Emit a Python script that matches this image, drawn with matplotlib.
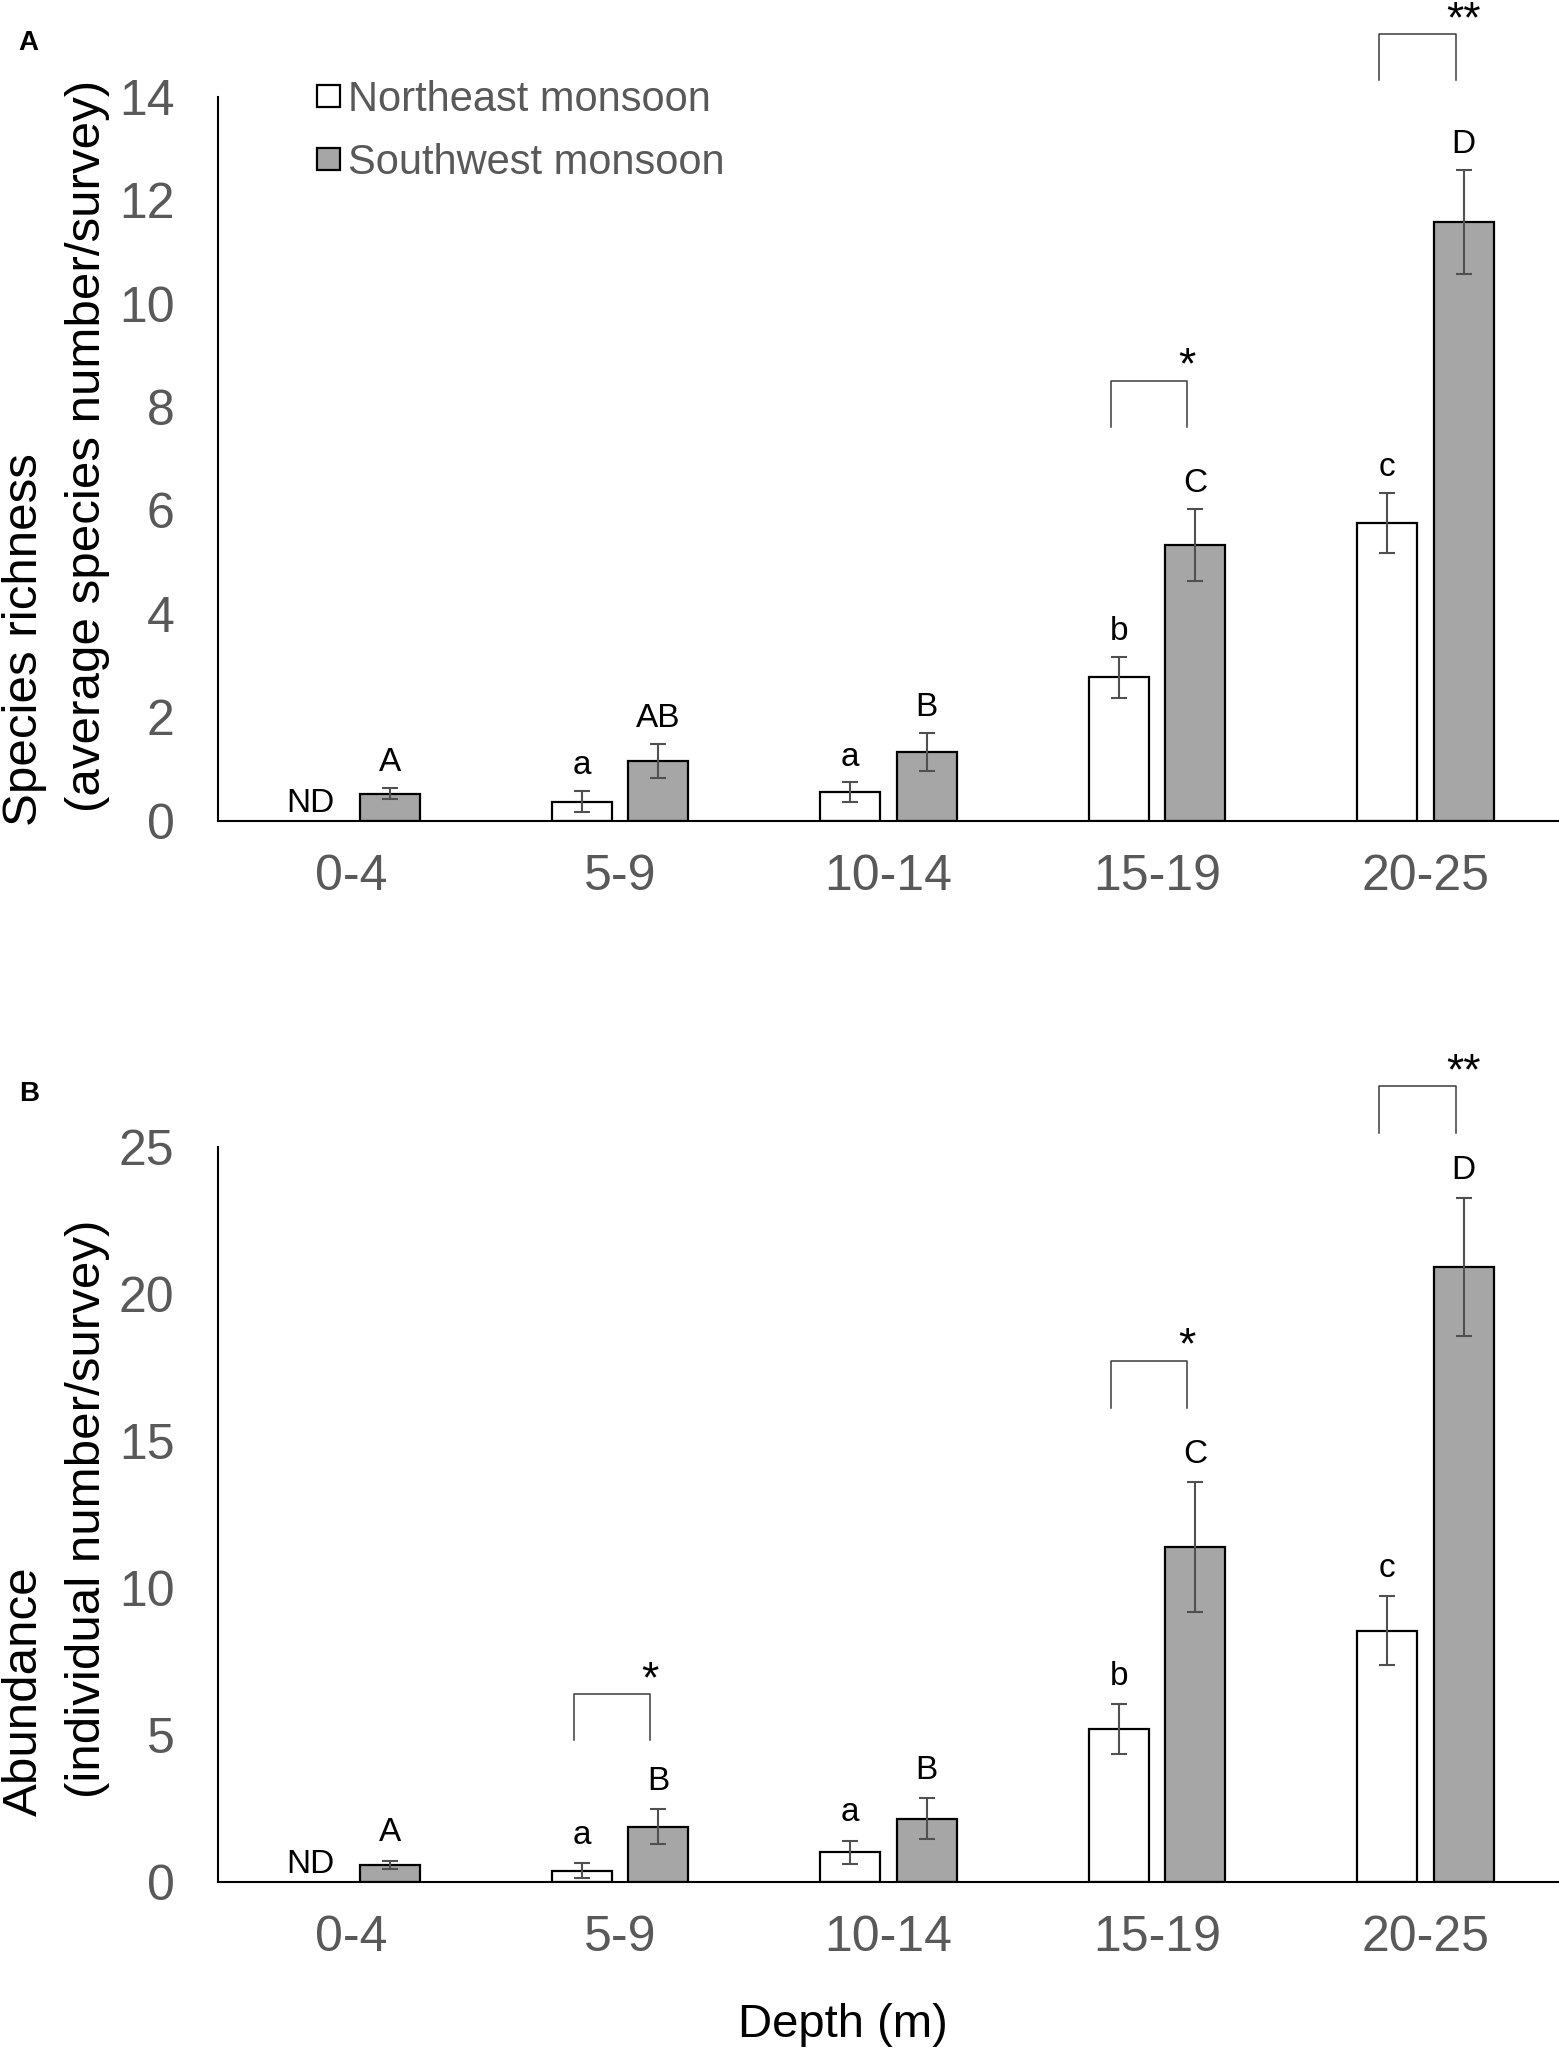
import numpy as np
import matplotlib
matplotlib.use("Agg")
import matplotlib.pyplot as plt
from matplotlib.patches import Patch

plt.rcParams['font.family'] = ['Liberation Sans', 'DejaVu Sans']

# ---------------- data ----------------
depths = ['0-4', '5-9', '10-14', '15-19', '20-25']
series = ['Northeast monsoon', 'Southwest monsoon']

rich_ne = [np.nan, 0.37, 0.55, 2.77, 5.76]
rich_ne_err = [np.nan, 0.21, 0.19, 0.40, 0.58]
rich_sw = [0.52, 1.15, 1.33, 5.33, 11.58]
rich_sw_err = [0.11, 0.33, 0.37, 0.70, 1.00]
rich_ne_letters = ['', 'a', 'a', 'b', 'c']
rich_sw_letters = ['A', 'AB', 'B', 'C', 'D']

abun_ne = [np.nan, 0.37, 1.00, 5.20, 8.54]
abun_ne_err = [np.nan, 0.25, 0.39, 0.84, 1.17]
abun_sw = [0.57, 1.87, 2.15, 11.39, 20.91]
abun_sw_err = [0.15, 0.60, 0.70, 2.20, 2.35]
abun_ne_letters = ['', 'a', 'a', 'b', 'c']
abun_sw_letters = ['A', 'B', 'B', 'C', 'D']

# significance brackets: (group index, bracket top, leg bottom, stars)
rich_brackets = [(3, 8.51, 7.62, '*'), (4, 15.21, 14.32, '**')]
abun_brackets = [(1, 6.39, 4.83, '*'), (3, 17.74, 16.13, '*'), (4, 27.07, 25.50, '**')]

# ---------------- style ----------------
W, H = 1559, 2049
DPI = 100
GRAY_TXT = '#595959'
SW_FILL = '#a6a6a6'
ERR_C = '#505050'
BR_C = '#3c3c3c'
BAR_W = 0.224
OFF = 0.1427

fig = plt.figure(figsize=(W / DPI, H / DPI), dpi=DPI)

def fx(px):
    return px / W

def fy(py):
    return 1 - py / H

left_px, right_px = 217.5, 1559.5
axA = fig.add_axes([fx(left_px), fy(820.7), (right_px - left_px) / W, (820.7 - 96.7) / H])
axB = fig.add_axes([fx(left_px), fy(1881.7), (right_px - left_px) / W, (1881.7 - 1147.3) / H])


def draw_panel(ax, ne, ne_err, sw, sw_err, ne_let, sw_let, brackets, ymax, ystep, let_off):
    x = np.arange(len(depths))
    ne = np.array(ne, dtype=float)
    ne_err = np.array(ne_err, dtype=float)
    ok = ~np.isnan(ne)
    ekw = dict(ecolor=ERR_C, elinewidth=1.5, capsize=5.8, capthick=1.5)
    ax.bar(x[ok] - OFF, ne[ok], width=BAR_W, color='white', edgecolor='black',
           linewidth=1.6, yerr=ne_err[ok], error_kw=ekw, zorder=2)
    ax.bar(x + OFF, sw, width=BAR_W, color=SW_FILL, edgecolor='black',
           linewidth=1.6, yerr=sw_err, error_kw=ekw, zorder=2)

    for i in range(len(depths)):
        if ok[i]:
            if ne_let[i]:
                ax.annotate(ne_let[i], xy=(x[i] - OFF, ne[i] + ne_err[i]),
                            xytext=(0, let_off), textcoords='offset points',
                            ha='center', va='baseline', fontsize=24, color='black')
        else:
            ax.annotate('ND', xy=(x[i] - OFF, 0), xytext=(-2, 6),
                        textcoords='offset points', ha='center', va='baseline',
                        fontsize=24, color='black')
        ax.annotate(sw_let[i], xy=(x[i] + OFF, sw[i] + sw_err[i]),
                    xytext=(0, let_off), textcoords='offset points',
                    ha='center', va='baseline', fontsize=24, color='black')

    for g, top, leg, stars in brackets:
        x1 = g - OFF - 0.03
        x2 = g + OFF - 0.03
        ax.plot([x1, x1, x2, x2], [leg, top, top, leg], color=BR_C, lw=1.1,
                clip_on=False, zorder=3)
        dx = 6 if len(stars) > 1 else 0
        ax.annotate(stars, xy=(x2, top), xytext=(dx, 1.5), textcoords='offset points',
                    ha='center', va='baseline', fontsize=32, color='black',
                    annotation_clip=False)

    ax.set_xlim(-0.5, 4.5)
    ax.set_ylim(0, ymax)
    ax.set_yticks(np.arange(0, ymax + 0.01, ystep))
    ax.set_xticks(x)
    ax.set_xticklabels(depths)
    ax.tick_params(axis='both', length=0, labelsize=36, labelcolor=GRAY_TXT)
    ax.tick_params(axis='y', pad=31)
    ax.tick_params(axis='x', pad=24)
    for s in ['top', 'right']:
        ax.spines[s].set_visible(False)
    for s in ['left', 'bottom']:
        ax.spines[s].set_linewidth(1.5)
        ax.spines[s].set_color('black')
    ax.patch.set_alpha(0)


draw_panel(axA, rich_ne, rich_ne_err, rich_sw, rich_sw_err, rich_ne_letters,
           rich_sw_letters, rich_brackets, 14, 2, 12)
draw_panel(axB, abun_ne, abun_ne_err, abun_sw, abun_sw_err, abun_ne_letters,
           abun_sw_letters, abun_brackets, 25, 5, 14)

# legend
handles = [Patch(facecolor='white', edgecolor='black', linewidth=1.6),
           Patch(facecolor=SW_FILL, edgecolor='black', linewidth=1.6)]
leg = axA.legend(handles, series, loc='upper left',
                 bbox_to_anchor=(fx(316.7), fy(80)), bbox_transform=fig.transFigure,
                 frameon=False, fontsize=30, handlelength=0.55, handleheight=0.45,
                 handletextpad=0.21, labelspacing=0.55, borderpad=0, borderaxespad=0)
for t in leg.get_texts():
    t.set_color(GRAY_TXT)

# y labels (two lines, start-aligned like the original)
ylab_kw = dict(rotation=90, rotation_mode='anchor', ha='left', va='baseline',
               fontsize=35.5, color='black')
fig.text(fx(36.7), fy(825.5), 'Species richness', **ylab_kw)
fig.text(fx(100), fy(811.5), '(average species number/survey)', **ylab_kw)
fig.text(fx(36.7), fy(1816), 'Abundance', **ylab_kw)
fig.text(fx(100), fy(1797.5), '(individual number/survey)', **ylab_kw)

# x label
fig.text(fx(842.5), fy(2037), 'Depth (m)', ha='center', va='baseline',
         fontsize=34, color='black')

# panel letters
fig.text(fx(28.7), fy(43), 'A', ha='center', va='center', fontsize=20,
         fontweight='bold', color='black')
fig.text(fx(29), fy(1094), 'B', ha='center', va='center', fontsize=20,
         fontweight='bold', color='black')

fig.savefig('out.png', dpi=DPI)
